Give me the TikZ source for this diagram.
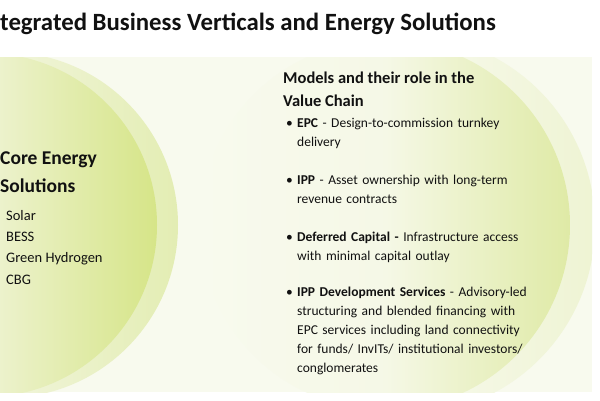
\documentclass[tikz,border=0pt]{standalone}
\usepackage{fontspec}
\setmainfont{Carlito}
\usetikzlibrary{positioning}
\definecolor{vcpanel}{HTML}{F8FAEE}
\definecolor{vcpale}{HTML}{EEF3D2}
\definecolor{vcring}{HTML}{E3EDB3}
\definecolor{vclime}{HTML}{D6E588}
\definecolor{vcsoft}{HTML}{F1F5DB}
\definecolor{vcsage}{HTML}{DFEAA6}
\definecolor{vcink}{HTML}{111111}

\begin{document}
\begin{tikzpicture}[
  x=1pt, y=-1pt,
  inner sep=0pt,
  text=vcink,
  title/.style={anchor=base west, font=\fontsize{24.8}{29}\selectfont\bfseries},
  head/.style={anchor=base west, font=\fontsize{19.5}{28}\selectfont\bfseries},
  sub/.style={anchor=base west, font=\fontsize{16.5}{23.4}\selectfont\bfseries},
  entry/.style={anchor=base west, font=\fontsize{14.5}{21}\selectfont},
  blt/.style={anchor=base west, font=\fontsize{13.5}{19.2}\selectfont},
  para/.style={anchor=base west, align=left, text width=300pt, font=\fontsize{13.5}{19.2}\selectfont},
]
\useasboundingbox[fill=white] (0,0) rectangle (600,400);

% ---------- backdrop panel ----------
\fill[vcpanel] (0,57) rectangle (592,392);
\begin{scope}
  \clip (0,57) rectangle (592,392);
  % left pair of discs
  \shade[left color=vcpanel, right color=vcring, middle color=vcsoft] (5,225) circle (173pt);
  \shade[left color=vcpanel, right color=vclime, middle color=vcpale] (-15,225) circle (172pt);
  % right pair of discs
  \shade[left color=vcpanel, right color=vcsoft!80!vcring, middle color=vcpanel] (405,225) circle (190pt);
  \shade[left color=vcpanel, right color=vcsage, middle color=vcpanel!60!vcsoft] (385,225) circle (185pt);
\end{scope}

% ---------- title ----------
\node[title] (ttl) at (0,30) {tegrated Business Verticals and Energy Solutions};

% ---------- core energy ----------
\node[head] (core1) at (0,164) {Core Energy};
\node[head] (core2) at (0,192.3) {Solutions};
\foreach \y/\lab [count=\i] in {220/Solar, 241.4/BESS, 262.8/Green Hydrogen, 284.2/CBG} {
  \node[entry] (src\i) at (6,\y) {\lab};
}

% ---------- models ----------
\node[sub] (mod1) at (283,83.3) {Models and their role in the};
\node[sub] (mod2) at (283,106.7) {Value Chain};
\foreach \y [count=\i] in {127, 184, 241, 296} {
  \node[blt] (dot\i) at (286,\y) {\textbullet};
}
\node[para] (epc) at (297,127) {\textbf{EPC} - Design-to-commission turnkey\\delivery};
\node[para] (ipp) at (297,184) {\textbf{IPP} - Asset ownership with long-term\\revenue contracts};
\node[para] (dfc) at (297,241) {\textbf{Deferred Capital -} Infrastructure access\\with minimal capital outlay};
\node[para] (ids) at (297,296) {\textbf{IPP Development Services} - Advisory-led\\structuring and blended financing with\\EPC services including land connectivity\\for funds/ InvITs/ institutional investors/\\conglomerates};
\end{tikzpicture}
\end{document}
